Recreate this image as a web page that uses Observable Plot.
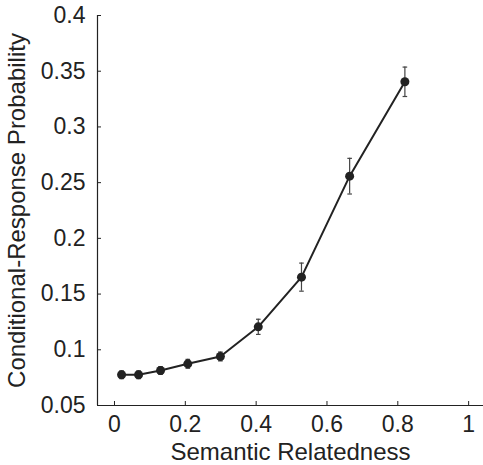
<!DOCTYPE html>
<html>
<head>
<meta charset="utf-8">
<script src="https://cdn.jsdelivr.net/npm/d3@7"></script>
<script src="https://cdn.jsdelivr.net/npm/@observablehq/plot@0.6"></script>
<style>
  html, body { margin: 0; padding: 0; background: #fff; }
  #chart svg { display: block; }
</style>
</head>
<body>
<div id="chart"></div>
<script>
// Data
const relatedness = [0.020, 0.068, 0.130, 0.207, 0.299, 0.406, 0.528, 0.664, 0.820];
const probability = [0.0776, 0.0776, 0.0814, 0.0874, 0.0940, 0.1206, 0.1652, 0.2558, 0.3405];
const stdError   = [0.0035, 0.0035, 0.0035, 0.0040, 0.0040, 0.0068, 0.0126, 0.0160, 0.0132];
const xTicks = [0, 0.2, 0.4, 0.6, 0.8, 1];
const yTicks = [0.05, 0.1, 0.15, 0.2, 0.25, 0.3, 0.35, 0.4];
const xDomain = [-0.048, 1.042];
const yDomain = [0.05, 0.4];
const xLabel = "Semantic Relatedness";
const yLabel = "Conditional-Response Probability";

const rows = relatedness.map((x, i) => ({x, y: probability[i], lo: probability[i] - stdError[i], hi: probability[i] + stdError[i]}));

const hline = {
  draw(ctx, size) {
    const w = Math.sqrt(size / Math.PI);
    ctx.moveTo(-w, 0);
    ctx.lineTo(w, 0);
  }
};

const ink = "#222";
const chart = Plot.plot({
  width: 483,
  height: 465,
  marginLeft: 97,
  marginRight: 0,
  marginTop: 15,
  marginBottom: 60,
  style: {fontFamily: "'Liberation Sans', Arial, sans-serif", background: "#fff", color: ink},
  x: {domain: xDomain},
  y: {domain: yDomain},
  marks: [
    Plot.ruleX([xDomain[0]], {stroke: ink, strokeWidth: 1.2}),
    Plot.ruleY([yDomain[0]], {stroke: ink, strokeWidth: 1.2}),
    Plot.axisX({ticks: xTicks, tickSize: 0, tickPadding: 10, fontSize: 23, tickFormat: d => String(d), label: null}),
    Plot.axisX({ticks: xTicks, tickSize: -4, tickFormat: () => "", label: null, stroke: ink}),
    Plot.axisY({ticks: yTicks, tickSize: 0, tickPadding: 12, fontSize: 23, tickFormat: d => String(+d.toFixed(2)), label: null}),
    Plot.axisY({ticks: yTicks, tickSize: -4, tickFormat: () => "", label: null, stroke: ink}),
    Plot.text([xLabel], {frameAnchor: "bottom", dy: 47, text: d => d, fontSize: 24, fill: ink, lineAnchor: "middle", textAnchor: "middle"}),
    Plot.text([yLabel], {frameAnchor: "left", dx: -80, text: d => d, fontSize: 24, fill: ink, rotate: -90, lineAnchor: "middle", textAnchor: "middle"}),
    Plot.ruleX(rows, {x: "x", y1: "lo", y2: "hi", stroke: "#444", strokeWidth: 1.2}),
    Plot.dot(rows, {x: "x", y: "lo", symbol: hline, r: 2.3, stroke: "#444", strokeWidth: 1.2}),
    Plot.dot(rows, {x: "x", y: "hi", symbol: hline, r: 2.3, stroke: "#444", strokeWidth: 1.2}),
    Plot.line(rows, {x: "x", y: "y", stroke: ink, strokeWidth: 2}),
    Plot.dot(rows, {x: "x", y: "y", r: 4.5, fill: ink, stroke: "none"})
  ]
});
document.getElementById("chart").appendChild(chart);
</script>
</body>
</html>
